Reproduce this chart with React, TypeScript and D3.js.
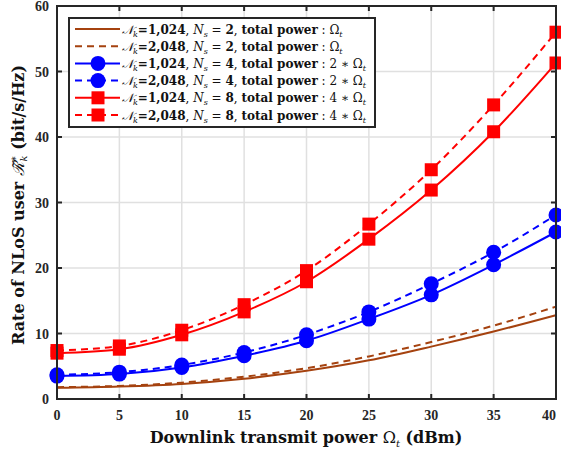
import React from 'react';
import * as d3 from 'd3';

// transmit power (dBm)
const powers = [0, 5, 10, 15, 20, 25, 30, 35, 40];

// rates (bit/s/Hz)
const brown1024 = [1.7, 1.9, 2.3, 3.1, 4.3, 5.9, 8.0, 10.3, 12.8];
const brown2048 = [1.8, 2.0, 2.5, 3.4, 4.7, 6.5, 8.7, 11.2, 14.1];
const blue1024 = [3.5, 3.8, 4.8, 6.6, 8.9, 12.2, 15.9, 20.5, 25.5];
const blue2048 = [3.7, 4.1, 5.2, 7.1, 9.8, 13.3, 17.6, 22.4, 28.1];
const red1024 = [7.0, 7.6, 9.8, 13.3, 17.9, 24.4, 31.9, 40.8, 51.3];
const red2048 = [7.4, 8.1, 10.5, 14.4, 19.6, 26.7, 35.0, 44.9, 56.0];

const xTicks = [0, 5, 10, 15, 20, 25, 30, 35, 40];
const yTicks = [0, 10, 20, 30, 40, 50, 60];

const BROWN = '#a5420f';
const BLUE = '#0000ff';
const RED = '#ff0000';

type S = {
  values: number[];
  color: string;
  dashed: boolean;
  marker: 'none' | 'circle' | 'square';
  nk: string;
  ns: string;
  mult: string;
};

const series: S[] = [
  { values: brown1024, color: BROWN, dashed: false, marker: 'none', nk: '1,024', ns: '2', mult: '' },
  { values: brown2048, color: BROWN, dashed: true, marker: 'none', nk: '2,048', ns: '2', mult: '' },
  { values: blue1024, color: BLUE, dashed: false, marker: 'circle', nk: '1,024', ns: '4', mult: '2' },
  { values: blue2048, color: BLUE, dashed: true, marker: 'circle', nk: '2,048', ns: '4', mult: '2' },
  { values: red1024, color: RED, dashed: false, marker: 'square', nk: '1,024', ns: '8', mult: '4' },
  { values: red2048, color: RED, dashed: true, marker: 'square', nk: '2,048', ns: '8', mult: '4' },
];

const W = 561;
const H = 450;
const left = 57;
const right = 556;
const top = 6;
const bottom = 399;

const x = d3.scaleLinear().domain([0, 40]).range([left, right]);
const y = d3.scaleLinear().domain([0, 60]).range([bottom, top]);

const line = d3
  .line<number>()
  .x((_, i) => x(powers[i]))
  .y((d) => y(d))
  .curve(d3.curveMonotoneX);

const serif = 'Liberation Serif, serif';
const cm = 'DejaVu Serif, serif';

const Marker = ({ kind, cx, cy, color }: { kind: string; cx: number; cy: number; color: string }) => {
  if (kind === 'circle') return <circle cx={cx} cy={cy} r={7.5} fill={color} />;
  if (kind === 'square') return <rect x={cx - 6.5} y={cy - 6.5} width={13} height={13} fill={color} />;
  return null;
};

const LegendText = ({ s, tx, ty }: { s: S; tx: number; ty: number }) => (
  <text x={tx} y={ty} fontFamily={cm} fontSize={12} fill="#111">
    <tspan fontStyle="italic">𝒩</tspan>
    <tspan fontStyle="italic" fontSize={8} dy={3}>k</tspan>
    <tspan dy={-3} fontWeight="bold">={s.nk}</tspan>
    <tspan>, </tspan>
    <tspan fontStyle="italic">N</tspan>
    <tspan fontStyle="italic" fontSize={8} dy={3}>s</tspan>
    <tspan dy={-3}> = </tspan>
    <tspan fontWeight="bold">{s.ns}</tspan>
    <tspan>, </tspan>
    <tspan fontWeight="bold">total power</tspan>
    <tspan> : {s.mult ? `${s.mult} ∗ ` : ''}Ω</tspan>
    <tspan fontStyle="italic" fontSize={8} dy={3}>t</tspan>
  </text>
);

export default function App() {
  const legX = 69;
  const legY = 18;
  const legW = 306;
  const legH = 109;
  const rowH = 17.2;

  return (
    <svg width={W} height={H} style={{ position: 'absolute', left: 0, top: 0, background: '#fff' }}>
      {/* grid */}
      <g stroke="#e0e0e0" strokeWidth={1.5}>
        {xTicks.map((t) => (
          <line key={'gx' + t} x1={x(t)} x2={x(t)} y1={top} y2={bottom} />
        ))}
        {yTicks.map((t) => (
          <line key={'gy' + t} x1={left} x2={right} y1={y(t)} y2={y(t)} />
        ))}
      </g>

      {/* series */}
      {series.map((s, i) => (
        <g key={'s' + i}>
          <path
            d={line(s.values) || ''}
            fill="none"
            stroke={s.color}
            strokeWidth={2}
            strokeDasharray={s.dashed ? '7,5' : undefined}
          />
          {s.values.map((v, j) => (
            <Marker key={j} kind={s.marker} cx={x(powers[j])} cy={y(v)} color={s.color} />
          ))}
        </g>
      ))}

      {/* frame and ticks */}
      <g stroke="#262626" strokeWidth={2} fill="none">
        <rect x={left} y={top} width={right - left} height={bottom - top} />
        {xTicks.map((t) => (
          <g key={'tx' + t}>
            <line x1={x(t)} x2={x(t)} y1={bottom} y2={bottom - 5} />
            <line x1={x(t)} x2={x(t)} y1={top} y2={top + 5} />
          </g>
        ))}
        {yTicks.map((t) => (
          <g key={'ty' + t}>
            <line x1={left} x2={left + 5} y1={y(t)} y2={y(t)} />
            <line x1={right} x2={right - 5} y1={y(t)} y2={y(t)} />
          </g>
        ))}
      </g>

      {/* tick labels */}
      <g fontFamily={serif} fontWeight="bold" fontSize={14} fill="#262626">
        {xTicks.map((t) => (
          <text key={'lx' + t} x={Math.min(x(t), 549)} y={bottom + 21} textAnchor="middle">
            {t}
          </text>
        ))}
        {yTicks.map((t) => (
          <text key={'ly' + t} x={left - 8} y={y(t) + 5} textAnchor="end">
            {t}
          </text>
        ))}
      </g>

      {/* axis titles */}
      <text x={306} y={443} textAnchor="middle" fontFamily={cm} fontWeight="bold" fontSize={16} fill="#111">
        Downlink transmit power <tspan fontWeight="normal">Ω</tspan>
        <tspan fontSize={10} dy={4} fontStyle="italic" fontWeight="normal">t</tspan>
        <tspan dy={-4}> (dBm)</tspan>
      </text>
      <text
        transform={`translate(24, 205) rotate(-90)`}
        textAnchor="middle"
        fontFamily={cm}
        fontWeight="bold"
        fontSize={16}
        fill="#111"
      >
        Rate of NLoS user{' '}
        <tspan fontStyle="italic" fontWeight="normal">ℛ̃</tspan>
        <tspan fontSize={10} dy={-7} fontWeight="normal">∗</tspan>
        <tspan fontSize={10} dy={10} dx={-6} fontStyle="italic" fontWeight="normal">k</tspan>
        <tspan dy={-3}> (bit/s/Hz)</tspan>
      </text>

      {/* legend */}
      <rect x={legX} y={legY} width={legW} height={legH} fill="#fff" stroke="#262626" strokeWidth={2} />
      {series.map((s, i) => {
        const cy = legY + 11 + i * rowH;
        return (
          <g key={'lg' + i}>
            <line
              x1={legX + 6}
              x2={legX + 51}
              y1={cy}
              y2={cy}
              stroke={s.color}
              strokeWidth={2}
              strokeDasharray={s.dashed ? '7,5' : undefined}
            />
            <Marker kind={s.marker} cx={legX + 29} cy={cy} color={s.color} />
            <LegendText s={s} tx={legX + 53} ty={cy + 4.5} />
          </g>
        );
      })}
    </svg>
  );
}
